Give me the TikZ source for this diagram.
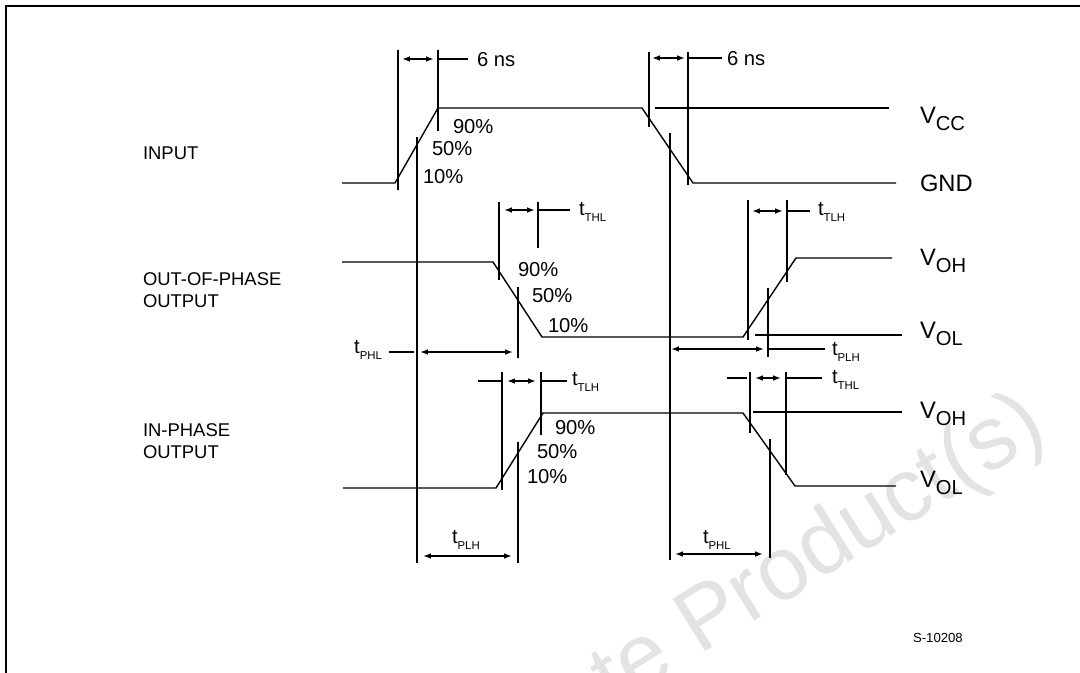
\documentclass[tikz,border=0pt]{standalone}
\usepackage{fontspec}
\setmainfont{Liberation Sans}
\usetikzlibrary{arrows.meta}
\newcommand{\vbar}[3]{\draw ( #1 , #2 ) -- ( #1 , #3 );}
\newcommand{\tarrow}[3]{\draw[{Latex[length=4.5pt,width=3.2pt]}-{Latex[length=4.5pt,width=3.2pt]}] ( #1 , #3 ) -- ( #2 , #3 );}
\newcommand{\tsub}[1]{t\raisebox{-3.2pt}{\fontsize{6.5}{7}\selectfont #1}}
\newcommand{\vsub}[1]{V\raisebox{-4pt}{\fontsize{11.5}{13}\selectfont #1}}
\begin{document}
\begin{tikzpicture}[x=0.02cm, y=-0.02cm, line width=0.8pt,
  every node/.style={inner sep=0pt, outer sep=0pt, anchor=west},
  pct/.style={font=\fontsize{11.5}{13}\selectfont},
  side/.style={font=\fontsize{10.5}{12.5}\selectfont, align=left},
  lvl/.style={font=\fontsize{13.5}{15}\selectfont, anchor=base west},
  tlab/.style={font=\fontsize{11.5}{13}\selectfont},
  wm/.style={font=\fontsize{51}{55}\selectfont, text=gray!22, anchor=base west}]
    \useasboundingbox (0,0) rectangle (1080,673);
    \begin{scope}
    \clip (0,0) rectangle (1080,673);
    \node[wm, rotate=32] (wmark) at (374,859) {Obsolete Product(s)};
    \end{scope}
    \draw[line width=1.4pt] (6,673) -- (6,6) -- (1080,6);
    \node[side] (input) at (143,153) {INPUT};
    \node[side] (oop) at (143,290) {OUT-OF-PHASE\\OUTPUT};
    \node[side] (ip) at (143,441) {IN-PHASE\\OUTPUT};
    \draw (342,183) -- (395,183) -- (438,108) -- (642,108) -- (693,183) -- (896,183);
    \draw (655,108) -- (889,108);
    \vbar{398}{50}{190}
    \vbar{438}{50}{131}
    \vbar{417}{137}{563}
    \vbar{649}{52}{127}
    \vbar{688}{52}{185}
    \vbar{670}{133}{560}
    \tarrow{402}{434}{59}
    \draw (438,59) -- (468,59);
    \node[tlab] (ns1) at (477,60) {6 ns};
    \tarrow{652}{685}{58}
    \draw (688,58) -- (722,58);
    \node[tlab] (ns2) at (727,59) {6 ns};
    \node[pct] (in90) at (453,127) {90\%};
    \node[pct] (in50) at (432,149) {50\%};
    \node[pct] (in10) at (423,177) {10\%};
    \node[lvl] (vcc) at (920,123) {\vsub{CC}};
    \node[lvl] (gnd) at (920,191) {GND};
    \draw (342,262) -- (493,262) -- (542,337) -- (743,337) -- (796,258) -- (892,258);
    \draw (755,335) -- (902,335);
    \vbar{499}{202}{280}
    \vbar{538}{202}{248}
    \vbar{518}{287}{358}
    \tarrow{504}{535}{210}
    \draw (538,210) -- (570,210);
    \node[tlab] (thla) at (579,212) {\tsub{THL}};
    \node[tlab, anchor=east] (tphla) at (382,350) {\tsub{PHL}};
    \draw (389,352) -- (414,352);
    \tarrow{420}{513}{352}
    \vbar{748}{200}{340}
    \vbar{787}{200}{282}
    \vbar{768}{288}{357}
    \tarrow{752}{783}{211}
    \draw (787,211) -- (810,211);
    \node[tlab] (tlha) at (818,212) {\tsub{TLH}};
    \tarrow{671}{764}{349}
    \draw (768,349) -- (825,349);
    \node[tlab] (tplha) at (832,352) {\tsub{PLH}};
    \node[pct] (oop90) at (518,270) {90\%};
    \node[pct] (oop50) at (532,296) {50\%};
    \node[pct] (oop10) at (548,326) {10\%};
    \node[lvl] (voha) at (920,265) {\vsub{OH}};
    \node[lvl] (vola) at (920,338) {\vsub{OL}};
    \draw (343,488) -- (496,488) -- (543,413) -- (743,413) -- (795,486) -- (896,486);
    \draw (753,412) -- (902,412);
    \vbar{502}{372}{490}
    \vbar{541}{372}{435}
    \vbar{518}{442}{563}
    \draw (478,381) -- (502,381);
    \tarrow{507}{536}{381}
    \draw (541,381) -- (567,381);
    \node[tlab] (tlhb) at (572,382) {\tsub{TLH}};
    \vbar{750}{372}{433}
    \vbar{786}{372}{475}
    \vbar{770}{439}{558}
    \draw (727,378) -- (747,378);
    \tarrow{755}{781}{378}
    \draw (786,378) -- (822,378);
    \node[tlab] (thlb) at (832,380) {\tsub{THL}};
    \tarrow{423}{512}{556}
    \node[tlab] (tplhb) at (452,540) {\tsub{PLH}};
    \tarrow{675}{763}{554}
    \node[tlab] (tphlb) at (703,540) {\tsub{PHL}};
    \node[pct] (ip90) at (555,428) {90\%};
    \node[pct] (ip50) at (537,452) {50\%};
    \node[pct] (ip10) at (527,477) {10\%};
    \node[lvl] (vohb) at (920,418) {\vsub{OH}};
    \node[lvl] (volb) at (920,487) {\vsub{OL}};
    \node[font=\fontsize{7.5}{9}\selectfont] (fig) at (913,638) {S-10208};
\end{tikzpicture}
\end{document}
